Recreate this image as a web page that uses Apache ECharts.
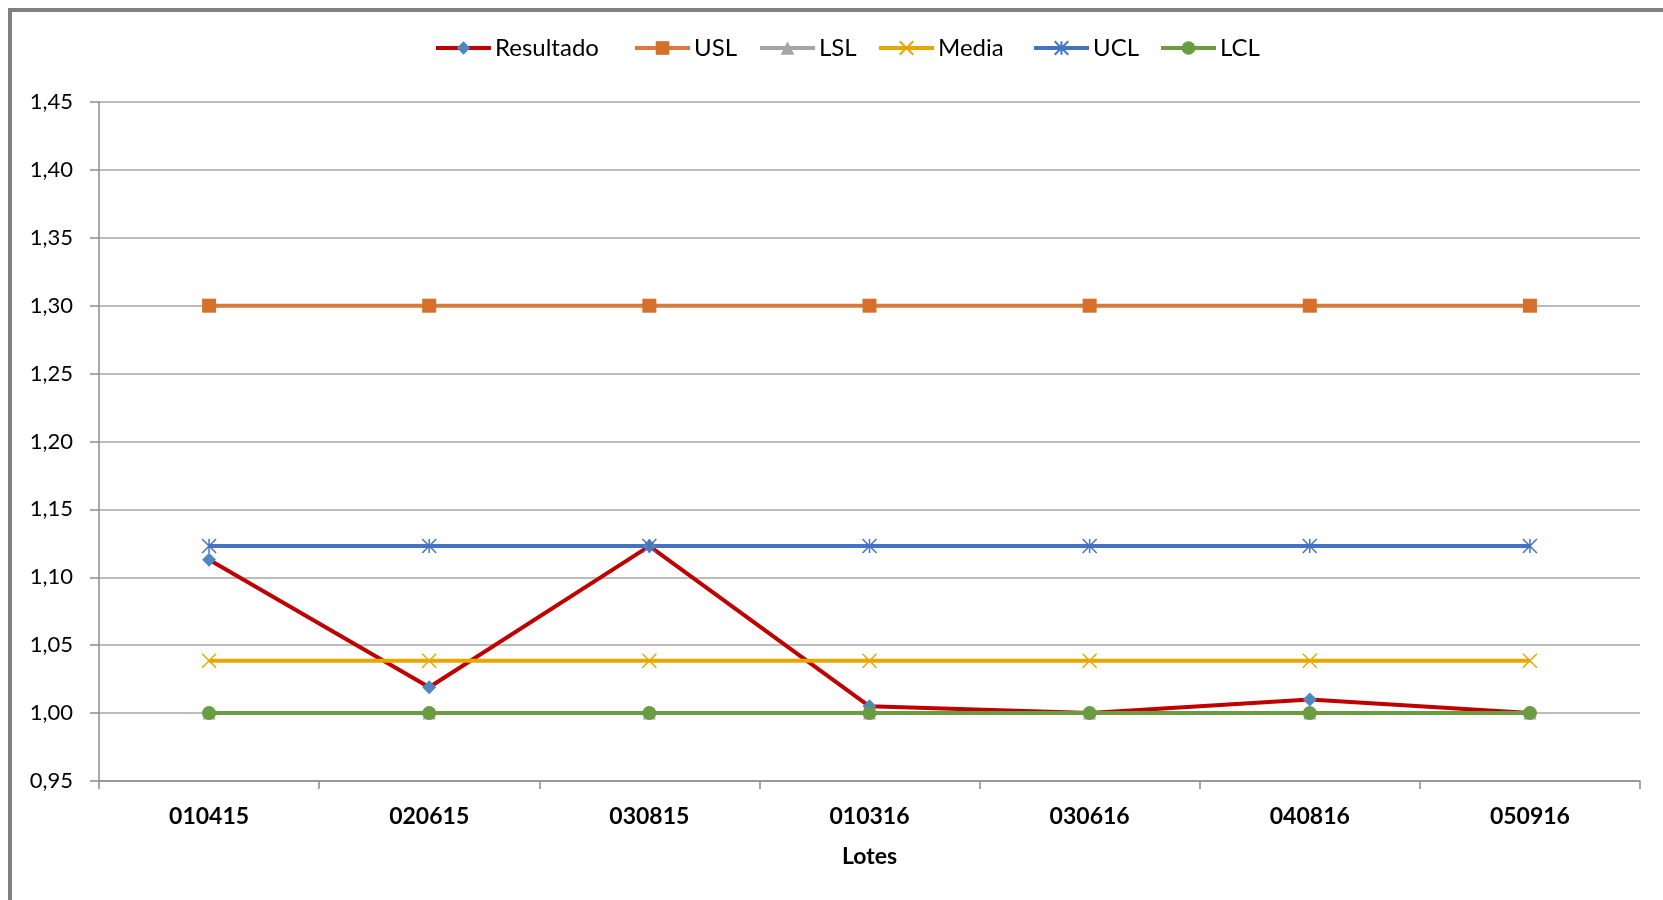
<!DOCTYPE html>
<html>
<head>
<meta charset="utf-8">
<script src="https://cdn.jsdelivr.net/npm/echarts@6/dist/echarts.min.js"></script>
<style>
  html, body { margin: 0; padding: 0; background: #fff; }
  #chart { width: 1663px; height: 900px; }
</style>
</head>
<body>
<div id="chart"></div>
<script>
// ---- data ----
const categories = ['010415', '020615', '030815', '010316', '030616', '040816', '050916'];
const resultado = [1.113, 1.019, 1.123, 1.005, 1.000, 1.010, 1.000];
const usl   = [1.30, 1.30, 1.30, 1.30, 1.30, 1.30, 1.30];
const lsl   = [1.00, 1.00, 1.00, 1.00, 1.00, 1.00, 1.00];
const media = [1.0385, 1.0385, 1.0385, 1.0385, 1.0385, 1.0385, 1.0385];
const ucl   = [1.123, 1.123, 1.123, 1.123, 1.123, 1.123, 1.123];
const lcl   = [1.00, 1.00, 1.00, 1.00, 1.00, 1.00, 1.00];
const seriesNames = ['Resultado', 'USL', 'LSL', 'Media', 'UCL', 'LCL'];
const yMin = 0.95, yMax = 1.45, yStep = 0.05;
const xName = 'Lotes';

const FONT = 'Lato';
// legend item left positions (px)
const legendLefts = [434, 633, 758, 877, 1032, 1159];

function lineSeries(name, data, color, lineColor, symbol, size, extra) {
  return Object.assign({
    name: name,
    type: 'line',
    data: data,
    symbol: symbol,
    symbolSize: size,
    showAllSymbol: true,
    lineStyle: { color: lineColor, width: 4 },
    itemStyle: { color: color },
    emphasis: { disabled: true },
    silent: true
  }, extra || {});
}

const legends = seriesNames.map(function (n, i) {
  return {
    data: [n],
    left: legendLefts[i],
    top: 36,
    itemWidth: 55,
    itemHeight: 17,
    padding: 0,
    selectedMode: false,
    lineStyle: { width: 4 },
    textStyle: { fontFamily: FONT, fontSize: 24, color: '#000', padding: [0, 0, 0, -1] }
  };
});

const chart = echarts.init(document.getElementById('chart'), null, { renderer: 'canvas' });
chart.setOption({
  animation: false,
  backgroundColor: '#ffffff',
  textStyle: { fontFamily: FONT },
  graphic: [{
    type: 'rect',
    shape: { x: 10, y: 10, width: 1720, height: 1000 },
    style: { fill: 'none', stroke: '#808080', lineWidth: 4 },
    silent: true,
    z: 100
  }],
  legend: legends,
  grid: { left: 99, right: 23, top: 102, bottom: 119, containLabel: false },
  xAxis: {
    type: 'category',
    data: categories,
    boundaryGap: true,
    name: xName,
    nameLocation: 'middle',
    nameGap: 64,
    nameTextStyle: { fontFamily: FONT, fontSize: 23, fontWeight: 'bold', color: '#000' },
    axisLine: { show: true, lineStyle: { color: '#8c8c8c', width: 1.5 } },
    axisTick: { show: true, length: 8, lineStyle: { color: '#8c8c8c', width: 1.5 } },
    axisLabel: { fontFamily: FONT, fontSize: 23, fontWeight: 'bold', color: '#000', margin: 24 },
    splitLine: { show: false }
  },
  yAxis: {
    type: 'value',
    min: yMin,
    max: yMax,
    interval: yStep,
    axisLine: { show: true, lineStyle: { color: '#8c8c8c', width: 1.5 } },
    axisTick: { show: true, length: 9, lineStyle: { color: '#8c8c8c', width: 1.5 } },
    axisLabel: {
      fontFamily: FONT, fontSize: 22, color: '#000', margin: 26,
      formatter: function (v) { return v.toFixed(2).replace('.', ','); }
    },
    splitLine: { show: true, lineStyle: { color: '#a6a6a6', width: 1.5 } }
  },
  series: [
    lineSeries(seriesNames[0], resultado, '#4f87c0', '#c00000', 'diamond', 14),
    lineSeries(seriesNames[1], usl, '#d4702c', '#d87a38', 'rect', 14),
    lineSeries(seriesNames[2], lsl, '#a5a5a5', '#a5a5a5', 'triangle', 13),
    lineSeries(seriesNames[3], media, '#e6a800', '#e6a800', 'path://M0,0L10,10M10,0L0,10', 14,
      { itemStyle: { color: '#e6a800', borderColor: '#e6a800', borderWidth: 1.5 } }),
    lineSeries(seriesNames[4], ucl, '#4472c4', '#4472c4', 'path://M0,0L10,10M10,0L0,10M5,0L5,10', 14,
      { itemStyle: { color: '#4472c4', borderColor: '#4472c4', borderWidth: 1.5 } }),
    lineSeries(seriesNames[5], lcl, '#6a9c42', '#6a9c42', 'circle', 14)
  ]
});
</script>
</body>
</html>
